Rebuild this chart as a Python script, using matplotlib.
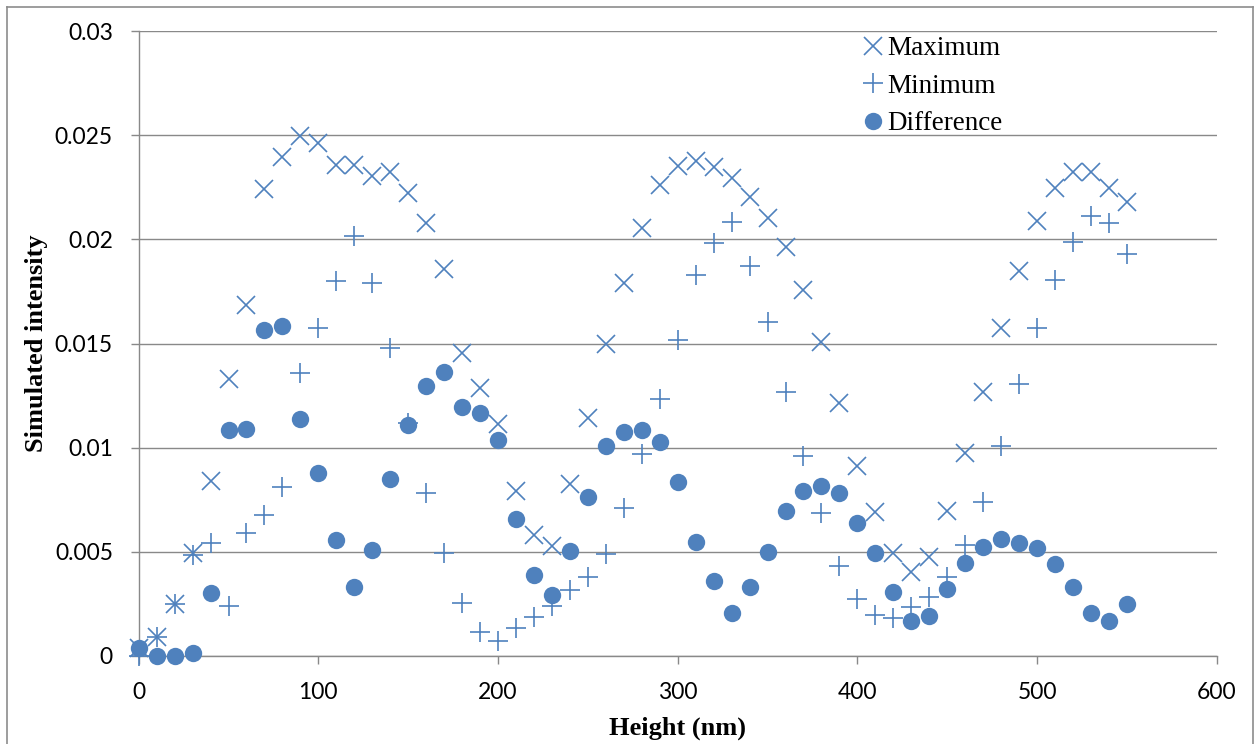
import numpy as np
import matplotlib
matplotlib.use("Agg")
import matplotlib.pyplot as plt
from matplotlib.lines import Line2D
from matplotlib.ticker import FuncFormatter

# heights in nm, one reading every 10 nm
height = np.arange(0, 551, 10)

maximum = [0.00036, 0.00088, 0.00247, 0.00492, 0.00841, 0.01331, 0.01685, 0.02242,
           0.02398, 0.02497, 0.02462, 0.02358, 0.02358, 0.02305, 0.02326, 0.02225,
           0.02078, 0.01857, 0.01453, 0.01285, 0.01113, 0.00791, 0.00580, 0.00529,
           0.00825, 0.01141, 0.01498, 0.01789, 0.02053, 0.02262, 0.02354, 0.02378,
           0.02347, 0.02294, 0.02205, 0.02101, 0.01962, 0.01757, 0.01509, 0.01213,
           0.00911, 0.00689, 0.00492, 0.00404, 0.00476, 0.00697, 0.00972, 0.01266,
           0.01573, 0.01850, 0.02089, 0.02249, 0.02326, 0.02326, 0.02249, 0.02181]

minimum = [0.00000, 0.00088, 0.00247, 0.00484, 0.00543, 0.00240, 0.00591, 0.00676,
           0.00809, 0.01357, 0.01576, 0.01800, 0.02018, 0.01789, 0.01480, 0.01118,
           0.00780, 0.00492, 0.00255, 0.00115, 0.00071, 0.00135, 0.00187, 0.00239,
           0.00316, 0.00380, 0.00487, 0.00711, 0.00968, 0.01233, 0.01517, 0.01829,
           0.01981, 0.02085, 0.01872, 0.01602, 0.01266, 0.00961, 0.00686, 0.00431,
           0.00272, 0.00196, 0.00183, 0.00236, 0.00284, 0.00380, 0.00532, 0.00740,
           0.01008, 0.01304, 0.01573, 0.01805, 0.01989, 0.02113, 0.02078, 0.01930]

difference = [0.00036, 0.00000, 0.00000, 0.00015, 0.00300, 0.01084, 0.01088, 0.01565,
              0.01584, 0.01139, 0.00879, 0.00554, 0.00332, 0.00508, 0.00848, 0.01107,
              0.01296, 0.01362, 0.01196, 0.01168, 0.01036, 0.00655, 0.00388, 0.00292,
              0.00505, 0.00761, 0.01009, 0.01076, 0.01084, 0.01025, 0.00836, 0.00545,
              0.00359, 0.00207, 0.00329, 0.00497, 0.00695, 0.00793, 0.00817, 0.00783,
              0.00636, 0.00492, 0.00305, 0.00168, 0.00192, 0.00320, 0.00444, 0.00521,
              0.00559, 0.00543, 0.00516, 0.00439, 0.00332, 0.00204, 0.00167, 0.00248]

blue = '#4F81BD'
grid = '#898989'

fig = plt.figure(figsize=(12.55, 7.44), dpi=100)
ax = fig.add_axes([0.1105, 0.1187, 0.859, 0.8392])

ax.plot(height, maximum, linestyle='none', marker='x', ms=13.5, mew=1.2,
        color=blue, label='Maximum', clip_on=False, zorder=3)
ax.plot(height, minimum, linestyle='none', marker='+', ms=14, mew=1.2,
        color=blue, label='Minimum', clip_on=False, zorder=3)
ax.plot(height, difference, linestyle='none', marker='o', ms=12.5, mew=0,
        color=blue, label='Difference', clip_on=False, zorder=3)

ax.set_xlim(0, 600)
ax.set_ylim(0, 0.03)
ax.set_xticks(np.arange(0, 601, 100))
ax.set_yticks(np.arange(0, 0.0301, 0.005))
ax.yaxis.set_major_formatter(FuncFormatter(lambda v, p: '%g' % round(v, 4)))

ax.grid(axis='y', color=grid, lw=1.0)
ax.set_axisbelow(True)
for s in ['top', 'right']:
    ax.spines[s].set_visible(False)
for s in ['left', 'bottom']:
    ax.spines[s].set_color(grid)
    ax.spines[s].set_linewidth(1.0)

ax.tick_params(axis='both', direction='out', length=6, width=1.0, color=grid,
               labelsize=16.5, labelcolor='black')
ax.tick_params(axis='y', pad=12.5)
ax.tick_params(axis='x', pad=13)
for lab in ax.get_xticklabels() + ax.get_yticklabels():
    lab.set_fontfamily('Lato')

ax.set_xlabel('Height (nm)', family='Liberation Serif', weight='bold',
              fontsize=19, labelpad=10)
ax.set_ylabel('Simulated intensity', family='Liberation Serif', weight='bold',
              fontsize=19, labelpad=5)

leg = ax.legend(loc='upper left', bbox_to_anchor=(0.674, 0.992), frameon=False,
                prop={'family': 'Liberation Serif', 'size': 19.5},
                handlelength=0.6, handletextpad=0.2, labelspacing=0.46,
                borderpad=0, borderaxespad=0)

# thin grey frame round the whole chart area
for xs, ys in [([7, 7], [0, 737]), ([7, 1252.5], [737, 737]), ([1252.5, 1252.5], [737, 0])]:
    fig.add_artist(Line2D(np.array(xs) / 1255, np.array(ys) / 744,
                          color='#8c8c8c', lw=1.2))

fig.savefig('out.png', dpi=100)
